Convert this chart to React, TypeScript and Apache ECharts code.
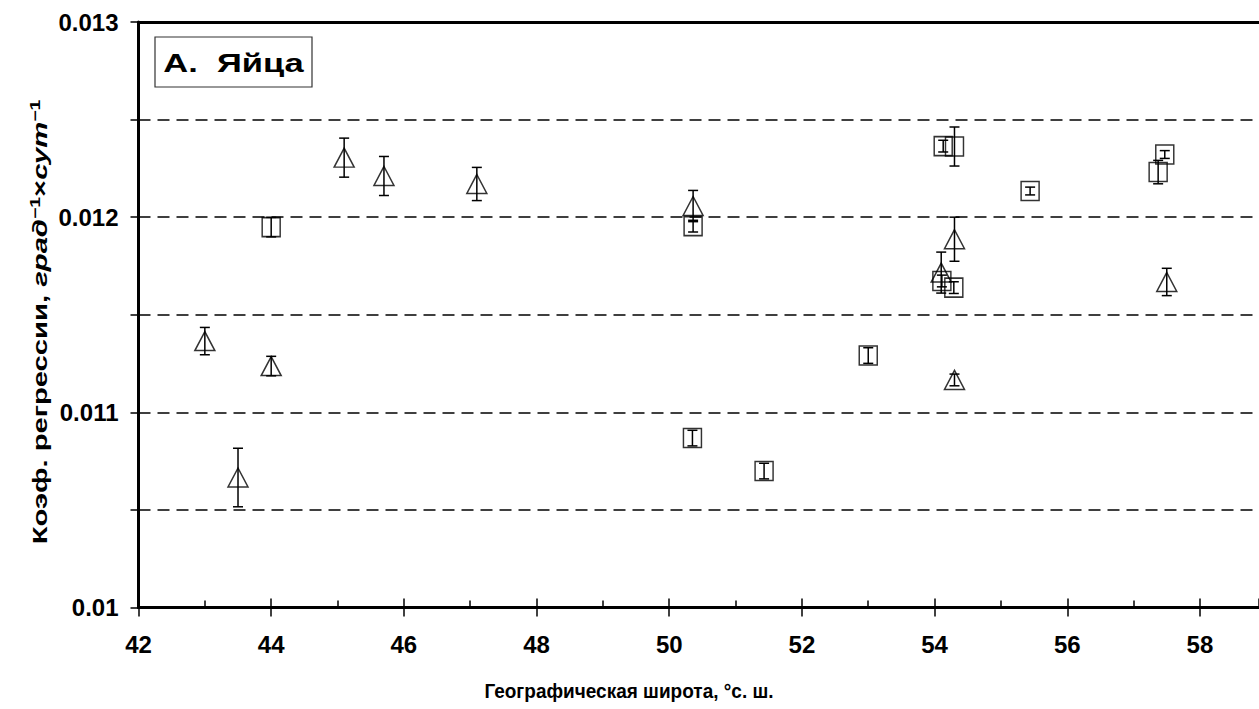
import React, { useEffect, useRef } from "react";
import * as echarts from "echarts";

// Triangles: latitude, coefficient, error
const triLat = [43.0, 44.0, 43.5, 45.1, 45.7, 47.1, 50.36, 54.3, 54.1, 54.3, 57.5];
const triVal = [0.011365, 0.011237, 0.010666, 0.012305, 0.012211, 0.01217, 0.012057, 0.011887, 0.011716, 0.011166, 0.011668];
const triErr = [0.00007, 0.00005, 0.00015, 0.0001, 0.0001, 0.000085, 0.00008, 0.000113, 0.000105, 0.00003, 0.00007];

// Squares
const sqLat = [44.0, 50.36, 50.35, 51.43, 53.0, 54.13, 54.3, 55.44, 57.37, 57.47, 54.11, 54.29];
const sqVal = [0.011949, 0.011954, 0.010868, 0.010699, 0.011291, 0.012364, 0.012362, 0.012134, 0.012231, 0.012321, 0.011673, 0.011639];
const sqErr = [0.00005, 0.00003, 0.00004, 0.00004, 0.00004, 0.00003, 0.0001, 0.00002, 0.00006, 0.00002, 0.00003, 0.00003];

const xTicks = [42, 44, 46, 48, 50, 52, 54, 56, 58];
const yLabels = ["0.01", "0.011", "0.012", "0.013"];

const FONT = 'Arial, "Liberation Sans", sans-serif';

export default function App() {
  const ref = useRef<HTMLDivElement>(null);
  useEffect(() => {
    document.body.style.margin = "0";
    const chart = echarts.init(ref.current!, null, { renderer: "svg" });
    const triData = triLat.map((x, i) => [x, triVal[i], triErr[i]]);
    const sqData = sqLat.map((x, i) => [x, sqVal[i], sqErr[i]]);
    const errRender = (params: any, api: any) => {
      const x = api.value(0);
      const y = api.value(1);
      const e = api.value(2);
      const t = api.coord([x, y + e]);
      const b = api.coord([x, y - e]);
      const hw = 5;
      const st = { stroke: "#000", lineWidth: 1.5 };
      return {
        type: "group",
        children: [
          { type: "line", shape: { x1: t[0], y1: t[1], x2: b[0], y2: b[1] }, style: st },
          { type: "line", shape: { x1: t[0] - hw, y1: t[1], x2: t[0] + hw, y2: t[1] }, style: st },
          { type: "line", shape: { x1: b[0] - hw, y1: b[1], x2: b[0] + hw, y2: b[1] }, style: st },
        ],
      };
    };
    const x0 = 138.5;
    const pxPerUnit = 66.34;
    const xMax = 42 + (1259 - x0) / pxPerUnit;
    const xLabelFmt = (v: number) => (xTicks.indexOf(v) >= 0 ? String(v) : "");
    chart.setOption({
      animation: false,
      backgroundColor: "#fff",
      grid: { left: x0, right: 0, top: 22, bottom: 101.5, containLabel: false },
      xAxis: [
        {
          type: "value",
          min: 42,
          max: xMax,
          interval: 2,
          position: "bottom",
          axisLine: { show: true, lineStyle: { color: "#000", width: 3 } },
          axisTick: { show: true, inside: false, length: 9, lineStyle: { color: "#000", width: 1.5 } },
          axisLabel: {
            show: true,
            margin: 25,
            color: "#000",
            fontSize: 24,
            fontWeight: "bold",
            fontFamily: FONT,
            showMaxLabel: false,
            formatter: xLabelFmt,
          },
          splitLine: { show: false },
        },
        {
          type: "value",
          min: 42,
          max: xMax,
          interval: 2,
          position: "bottom",
          axisLine: { show: false },
          axisTick: { show: true, inside: true, length: 9, lineStyle: { color: "#000", width: 1.5 } },
          minorTick: { show: true, splitNumber: 2, length: 7, lineStyle: { color: "#000", width: 1.5 } },
          axisLabel: { show: false },
          splitLine: { show: false },
        },
        {
          type: "value",
          min: 42,
          max: xMax,
          position: "top",
          axisLine: { show: true, lineStyle: { color: "#000", width: 3 } },
          axisTick: { show: false },
          axisLabel: { show: false },
          splitLine: { show: false },
        },
      ],
      yAxis: {
        type: "value",
        min: 0.01,
        max: 0.013,
        interval: 0.0005,
        axisLine: { show: true, lineStyle: { color: "#000", width: 3 } },
        axisTick: { show: true, inside: false, length: 8, lineStyle: { color: "#000", width: 1.5 } },
        axisLabel: {
          margin: 20,
          color: "#000",
          fontSize: 24,
          fontWeight: "bold",
          fontFamily: FONT,
          formatter: (v: number) => {
            const k = v * 1000;
            if (Math.abs(k - Math.round(k)) < 1e-6) {
              const s = String(Math.round(k) / 1000);
              return yLabels.indexOf(s) >= 0 ? s : "";
            }
            return "";
          },
        },
        splitLine: {
          show: true,
          lineStyle: { color: "#000", width: 1.5, type: [12, 7] },
        },
      },
      graphic: [
        {
          type: "rect",
          shape: { x: 155, y: 37, width: 157, height: 50 },
          style: { fill: "#fff", stroke: "#333", lineWidth: 1.2 },
          z: 100,
        },
        {
          type: "text",
          x: 233.5,
          y: 63,
          scaleX: 1.38,
          style: {
            text: "А.  Яйца",
            fontSize: 25,
            fontWeight: "bold",
            fontFamily: FONT,
            fill: "#000",
            align: "center",
            verticalAlign: "middle",
          },
          z: 101,
        },
        {
          type: "text",
          x: 629,
          y: 691,
          scaleY: 1.1,
          style: {
            text: "Географическая широта, °с. ш.",
            fontSize: 19,
            fontWeight: "bold",
            fontFamily: FONT,
            fill: "#000",
            align: "center",
            verticalAlign: "middle",
          },
        },
        {
          type: "text",
          x: 40,
          y: 322,
          rotation: Math.PI / 2,
          scaleX: 1.39,
          style: {
            text: "{b|Коэф. регрессии, }{i|град}{s|−1}{b|×}{i|сут}{s|−1}",
            align: "center",
            verticalAlign: "middle",
            rich: {
              b: { fontSize: 21, fontWeight: "bold", fontFamily: FONT, fill: "#000" },
              i: { fontSize: 21, fontWeight: "bold", fontStyle: "italic", fontFamily: FONT, fill: "#000" },
              s: { fontSize: 14, fontWeight: "bold", fontFamily: FONT, fill: "#000", verticalAlign: "top", padding: [0, 0, 10, 0] },
            },
          },
        },
      ],
      series: [
        {
          type: "scatter",
          name: "tri",
          data: triData,
          symbol: "triangle",
          symbolSize: [20, 19],
          itemStyle: { color: "rgba(0,0,0,0)", borderColor: "#000", borderWidth: 1.5 },
          z: 3,
        },
        {
          type: "scatter",
          name: "sq",
          data: sqData,
          symbol: "rect",
          symbolSize: [18, 19],
          itemStyle: { color: "rgba(0,0,0,0)", borderColor: "#000", borderWidth: 1.5 },
          z: 3,
        },
        { type: "custom", name: "triErr", data: triData, renderItem: errRender, z: 4 },
        { type: "custom", name: "sqErr", data: sqData, renderItem: errRender, z: 4 },
      ],
    });
    return () => chart.dispose();
  }, []);
  return <div ref={ref} style={{ width: 1259, height: 709 }} />;
}
